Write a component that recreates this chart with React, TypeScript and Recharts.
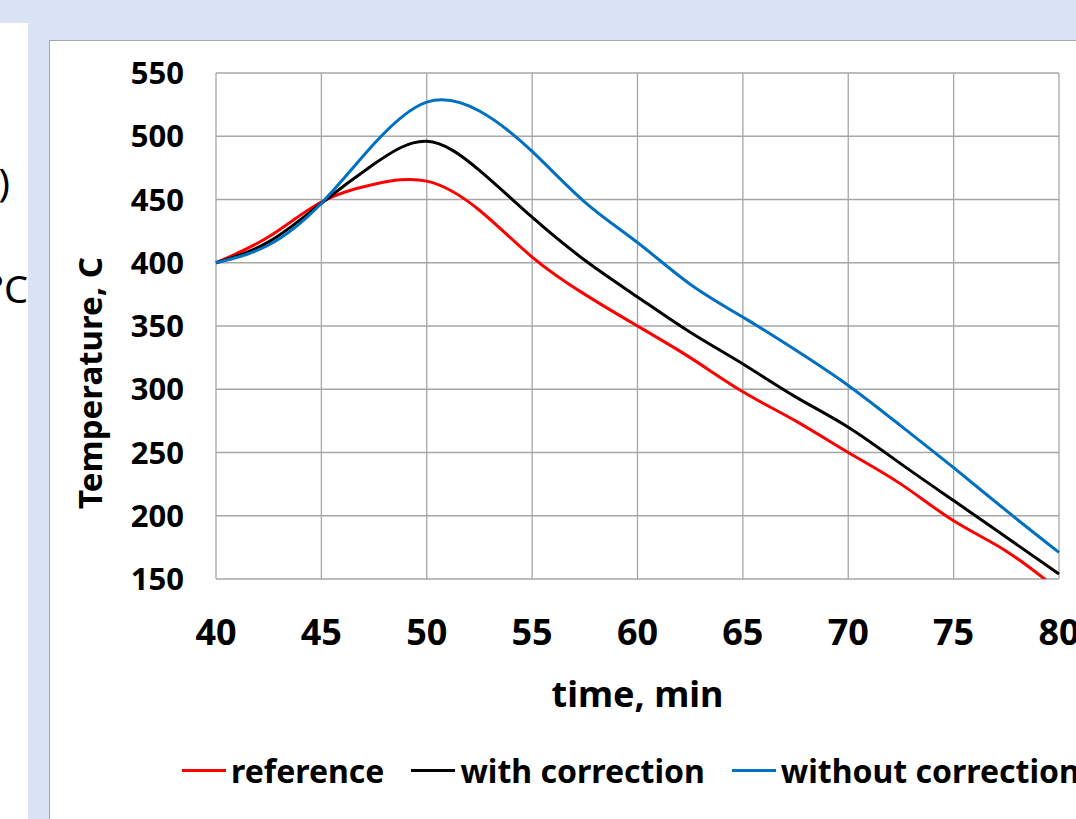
import { CartesianGrid, Legend, Line, LineChart, XAxis, YAxis } from 'recharts'

const time = [40, 42.5, 45, 47.5, 50, 52.5, 55, 57.5, 60, 62.5, 65, 67.5, 70, 72.5, 75, 77.5, 80]
const reference = [400, 420.5, 448, 462, 464.5, 441.5, 404.5, 375, 350, 325, 298, 275, 250, 225, 196, 172, 141]
const withCorrection = [400, 416.5, 447, 478, 496, 473, 436, 402, 373, 345, 320, 294, 270, 241, 212, 183, 154]
const withoutCorrection = [400, 414, 447, 494, 527, 520, 488, 448, 416, 383, 357, 331, 303, 271, 238, 204, 171]

const xTicks = [40, 45, 50, 55, 60, 65, 70, 75, 80]
const yTicks = [150, 200, 250, 300, 350, 400, 450, 500, 550]

const series = [
  { key: 'reference', name: 'reference', color: '#ff0000' },
  { key: 'withCorrection', name: 'with correction', color: '#000000' },
  { key: 'withoutCorrection', name: 'without correction', color: '#0070c0' },
]

const rows = time.map((t, i) => ({
  t,
  reference: reference[i],
  withCorrection: withCorrection[i],
  withoutCorrection: withoutCorrection[i],
}))

const font = '"Noto Sans", sans-serif'

function LegendRow({ payload }: any) {
  return (
    <div style={{ display: 'flex', alignItems: 'center', whiteSpace: 'nowrap', fontFamily: font, fontWeight: 700, fontSize: 32, color: '#000' }}>
      {(payload ?? []).map((p: any) => (
        <div key={p.value} style={{ display: 'flex', alignItems: 'center', marginRight: 27 }}>
          <span style={{ display: 'inline-block', width: 44, height: 3, background: p.color, marginRight: 5 }} />
          <span>{p.value}</span>
        </div>
      ))}
    </div>
  )
}

function YLabel({ viewBox }: any) {
  const cx = viewBox.x + 40
  const cy = viewBox.y + 310
  return (
    <text x={cx} y={cy} transform={`rotate(-90 ${cx} ${cy})`} textAnchor="middle" dominantBaseline="central"
      style={{ fontFamily: font, fontWeight: 700, fontSize: 33, fill: '#000' }}>
      Temperature, C
    </text>
  )
}

export default function App() {
  return (
    <div style={{ position: 'absolute', left: 0, top: 0, width: 1076, height: 819, overflow: 'hidden', background: '#dae3f3' }}>
      <div style={{ position: 'absolute', left: 0, top: 23, width: 28, height: 796, background: '#fff', overflow: 'hidden', fontFamily: font, fontSize: 38, color: '#000' }}>
        <div style={{ position: 'absolute', right: 18, top: 139, lineHeight: 1 }}>)</div>
        <div style={{ position: 'absolute', right: 0, top: 246, lineHeight: 1 }}>°C</div>
      </div>
      <div style={{ position: 'absolute', left: 49, top: 40, width: 1040, height: 790, background: '#fff', borderLeft: '1px solid #a6a6a6', borderTop: '1px solid #a6a6a6' }}>
        <LineChart width={1040} height={779} data={rows} margin={{ top: 32, right: 31, left: -1, bottom: 101 }}>
          <CartesianGrid stroke="#a6a6a6" strokeWidth={1.3} />
          <XAxis
            dataKey="t"
            type="number"
            domain={[40, 80]}
            ticks={xTicks}
            height={140}
            axisLine={false}
            tickLine={false}
            tickMargin={34}
            tick={{ fontFamily: font, fontWeight: 700, fontSize: 36, fill: '#000' }}
            label={{ value: 'time, min', position: 'insideBottom', offset: 12, style: { fontFamily: font, fontWeight: 700, fontSize: 36, fill: '#000' } }}
          />
          <YAxis
            type="number"
            domain={[150, 550]}
            ticks={yTicks}
            allowDataOverflow
            width={167}
            axisLine={false}
            tickLine={false}
            tickMargin={26}
            tick={{ fontFamily: font, fontWeight: 700, fontSize: 31, fill: '#000' }}
            label={{ content: YLabel }}
          />
          <Legend
            layout="vertical"
            align="center"
            verticalAlign="middle"
            content={LegendRow}
            wrapperStyle={{ top: 708, left: 132, width: 1100 }}
          />
          {series.map(s => (
            <Line key={s.key} dataKey={s.key} name={s.name} type="natural" stroke={s.color} strokeWidth={3}
              dot={false} activeDot={false} isAnimationActive={false} />
          ))}
        </LineChart>
      </div>
    </div>
  )
}
